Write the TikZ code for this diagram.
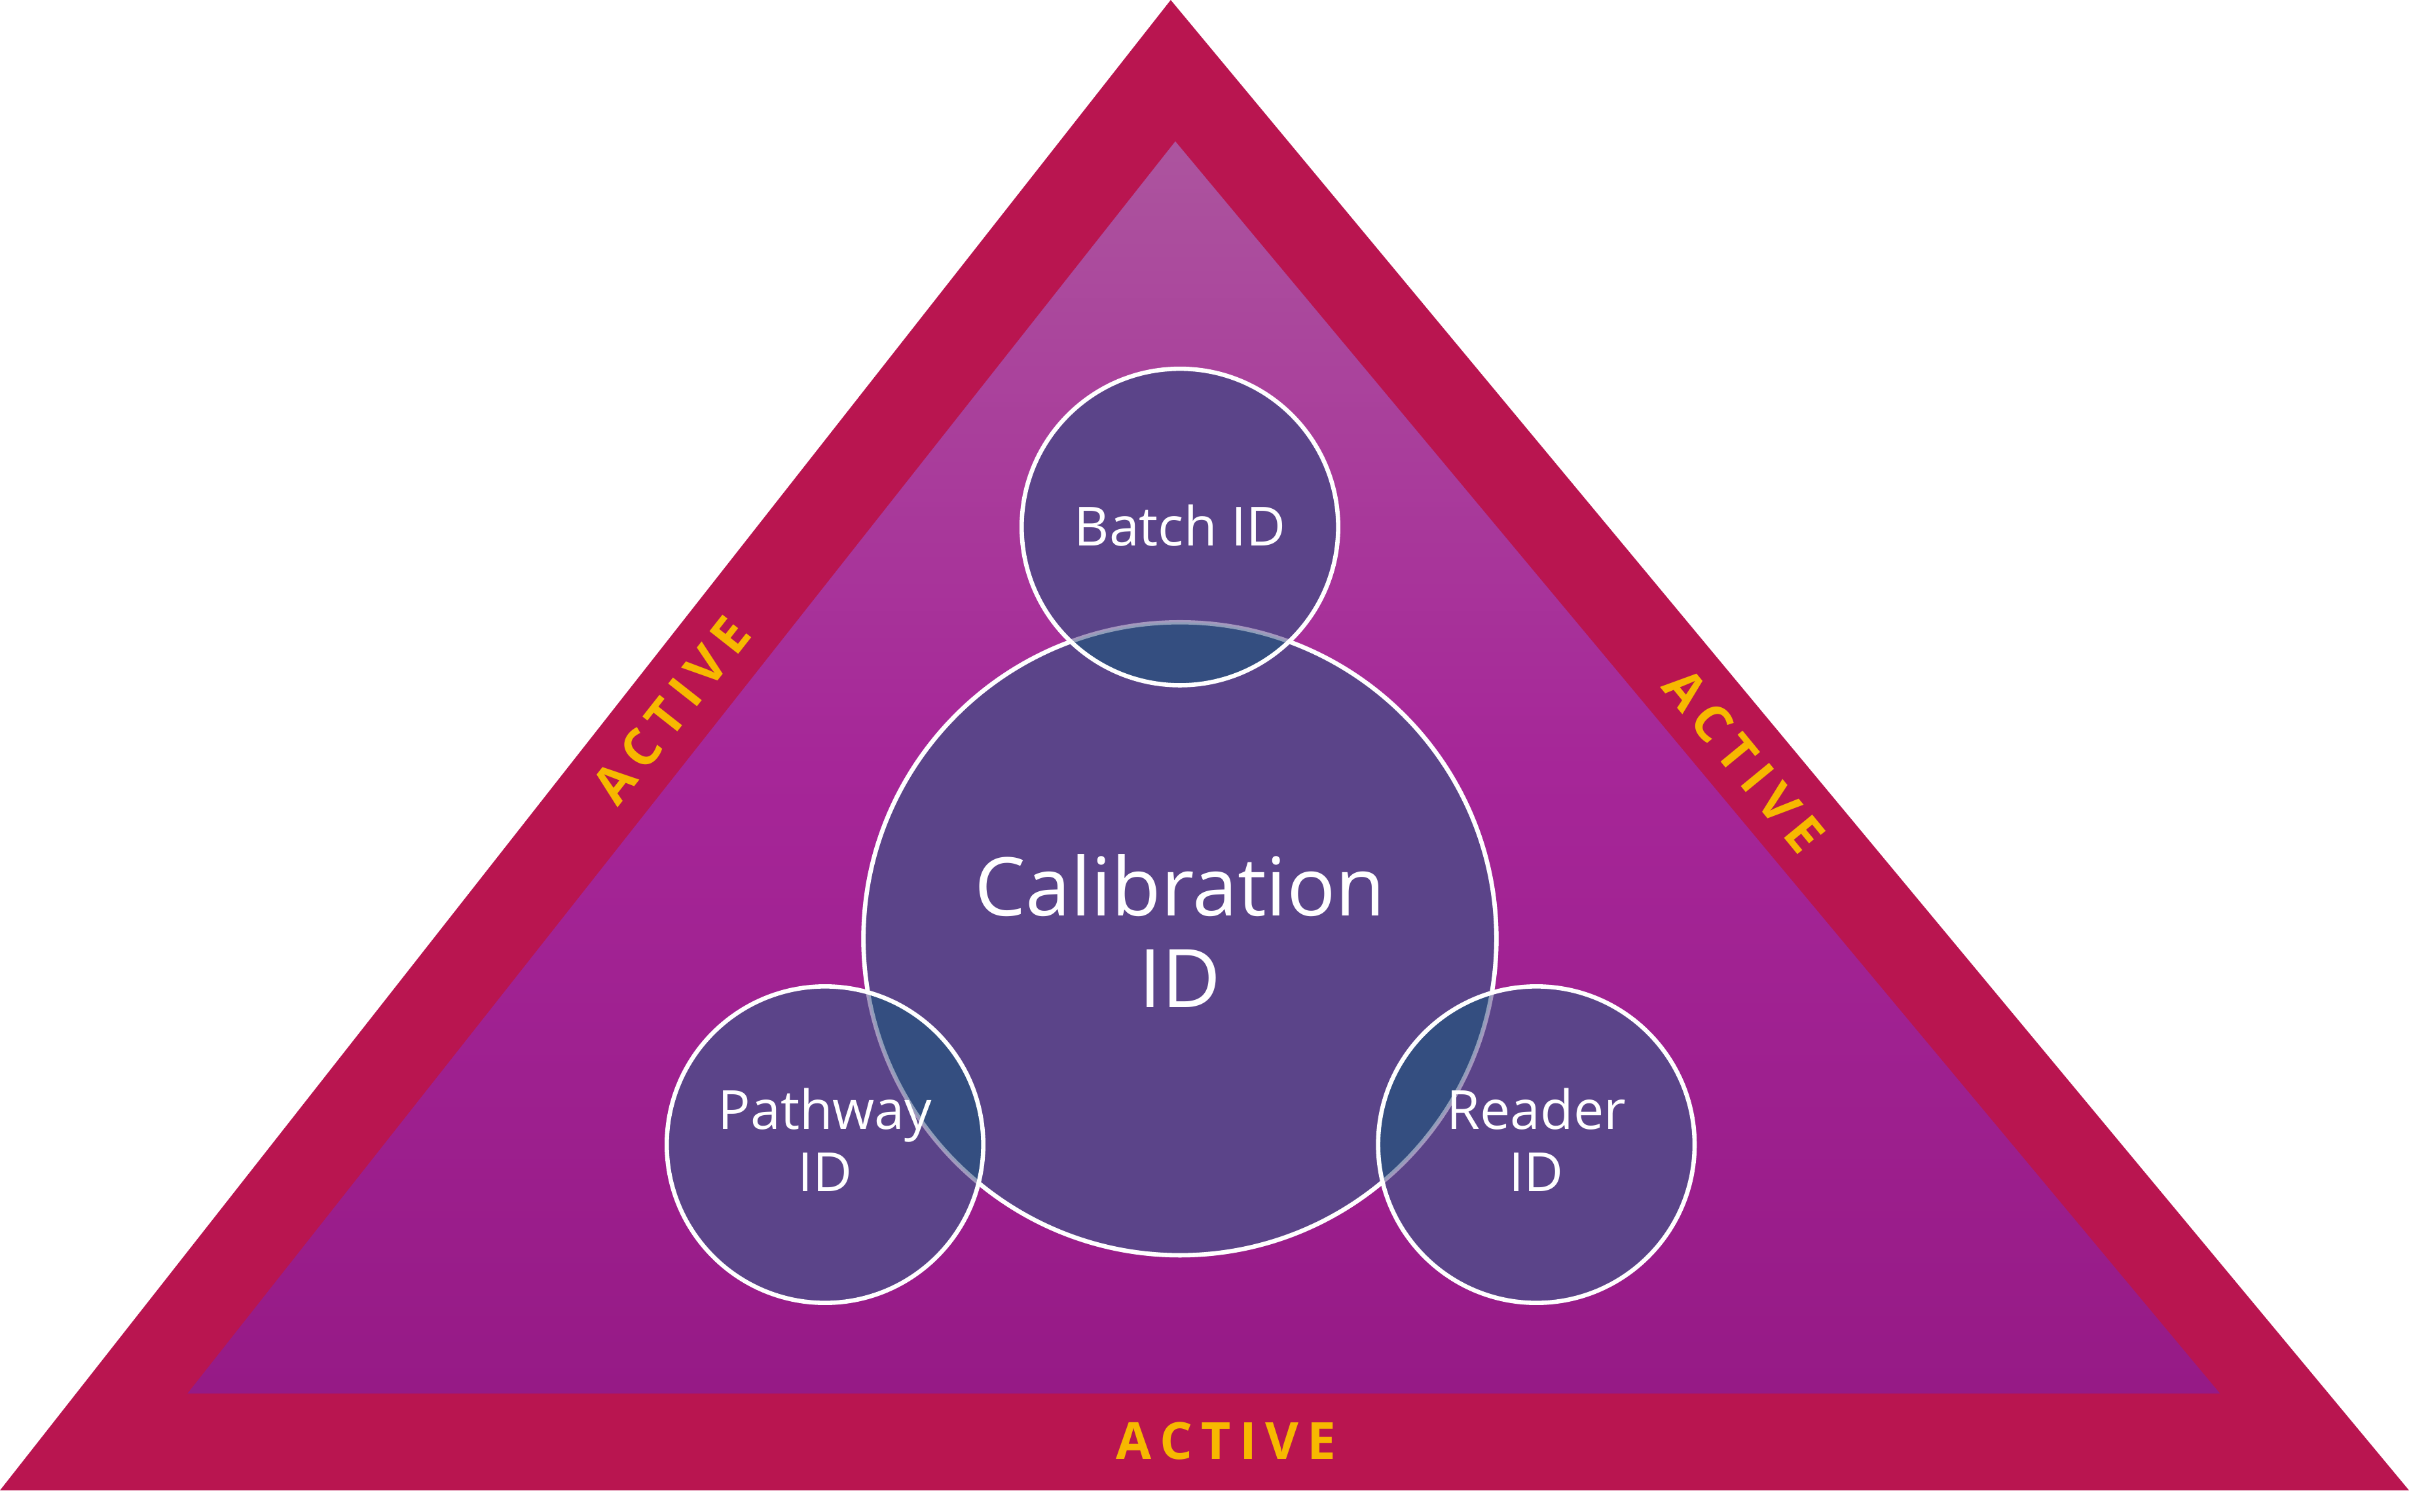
\documentclass[tikz,border=0pt]{standalone}
\usepackage{fontspec}
\setmainfont{Open Sans}
\begin{document}
\begin{tikzpicture}[x=0.02cm,y=-0.02cm,
  lbl/.style={text=white,align=center,inner sep=0pt},
  act/.style={text={rgb,255:red,247;green,184;blue,0},font=\fontsize{19}{22}\selectfont\bfseries,inner sep=0pt},
  ring/.style={draw=white,line width=1.6pt}]
\definecolor{outerc}{RGB}{185,21,80}
\definecolor{topc}{RGB}{172,84,158}
\definecolor{midc}{RGB}{166,38,152}
\definecolor{botc}{RGB}{150,26,134}
\definecolor{circc}{RGB}{91,68,137}
\definecolor{ovc}{RGB}{52,78,128}
\useasboundingbox (0,0) rectangle (1568,984);
\fill[white] (0,0) rectangle (1568,984);
\coordinate (oa) at (762,0); \coordinate (ol) at (0,970); \coordinate (or) at (1568,970);
\coordinate (ia) at (765,92); \coordinate (il) at (122,907); \coordinate (ir) at (1445,907);
\fill[outerc] (oa) -- (or) -- (ol) -- cycle;
\shade[top color=topc,bottom color=botc,middle color=midc] (ia) -- (ir) -- (il) -- cycle;
\coordinate (cc) at (768,611); \coordinate (cb) at (768,343);
\coordinate (cp) at (537,745); \coordinate (cr) at (1000,745);
\fill[circc] (cc) circle (206);
\draw[ring] (cc) circle (206);
\foreach \c in {cb,cp,cr}{\fill[circc] (\c) circle (103);}
\foreach \c in {cb,cp,cr}{\begin{scope}\clip (cc) circle (206); \fill[ovc] (\c) circle (103);\end{scope}}
\draw[ring,draw opacity=0.45] (cc) circle (206);
\foreach \c in {cb,cp,cr}{\draw[ring] (\c) circle (103);}
\node[lbl,font=\fontsize{30}{34}\selectfont] (tc) at (768,606) {Calibration\\ID};
\node[lbl,font=\fontsize{20}{23}\selectfont] (tb) at (768,342) {Batch ID};
\node[lbl,font=\fontsize{20}{23}\selectfont] (tp) at (537,742) {Pathway\\ID};
\node[lbl,font=\fontsize{20}{23}\selectfont] (tr) at (1000,742) {Reader\\ID};
\node[act,rotate=51.8] (al) at (437,462) {A\,C\,T\,I\,V\,E};
\node[act,rotate=-50.6] (ar) at (1135,495) {A\,C\,T\,I\,V\,E};
\node[act] (ab) at (798,938) {A\,C\,T\,I\,V\,E};
\end{tikzpicture}
\end{document}
